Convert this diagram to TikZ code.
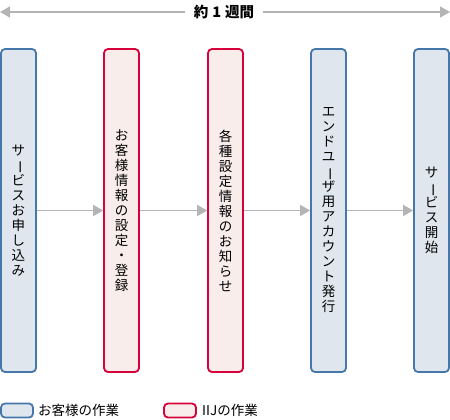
\documentclass[tikz,border=0pt]{standalone}
\usepackage{fontspec}
\setmainfont{Noto Sans CJK JP}
\usetikzlibrary{arrows.meta}
\definecolor{bbord}{HTML}{4677AA}
\definecolor{bfill}{HTML}{DFE6EE}
\definecolor{rbord}{HTML}{D6003A}
\definecolor{rfill}{HTML}{F8EDEA}
\definecolor{agray}{HTML}{B4B4B4}
\newcommand{\vbar}{\rotatebox[origin=c]{-90}{ー}}
\begin{document}
\begin{tikzpicture}[x=1pt,y=-1pt,
  cbox/.style={draw=bbord,fill=bfill,line width=1.8pt,rounded corners=4pt},
  ibox/.style={draw=rbord,fill=rfill,line width=1.8pt,rounded corners=4pt},
  vtext/.style={align=center,font=\fontsize{13.5}{15}\selectfont,inner sep=0pt},
  flow/.style={draw=agray,line width=1.6pt,-{Triangle[length=10pt,width=11pt]}},
  legtext/.style={anchor=west,font=\fontsize{13.5}{15}\selectfont,inner sep=0pt}]
\useasboundingbox (0,0) rectangle (450,420);
% top span
\node[font=\fontsize{14.5}{16}\selectfont\bfseries,inner sep=0pt] (span) at (224,12) {約\hspace{4pt}1\hspace{4pt}週間};
\coordinate (sl) at (0,12);
\coordinate (sr) at (450,12);
\draw[flow] ([xshift=-9pt]span.west) -- (sl);
\draw[flow] ([xshift=9pt]span.east) -- (sr);
% boxes
\node[cbox,minimum width=35pt,minimum height=323pt,inner sep=0pt] (b1) at (18.5,210.5) {};
\node[ibox,minimum width=35pt,minimum height=323pt,inner sep=0pt] (b2) at (121.5,210.5) {};
\node[ibox,minimum width=35pt,minimum height=323pt,inner sep=0pt] (b3) at (225.5,210.5) {};
\node[cbox,minimum width=35pt,minimum height=323pt,inner sep=0pt] (b4) at (328.5,210.5) {};
\node[cbox,minimum width=35pt,minimum height=323pt,inner sep=0pt] (b5) at (431.5,210.5) {};
% texts
\node[vtext] (t1) at (b1) {サ\\\vbar\\ビ\\ス\\お\\申\\し\\込\\み};
\node[vtext] (t2) at (b2) {お\\客\\様\\情\\報\\の\\設\\定\\・\\登\\録};
\node[vtext] (t3) at (b3) {各\\種\\設\\定\\情\\報\\の\\お\\知\\ら\\せ};
\node[vtext] (t4) at (b4) {エ\\ン\\ド\\ユ\\\vbar\\ザ\\用\\ア\\カ\\ウ\\ン\\ト\\発\\行};
\node[vtext] (t5) at (b5) {サ\\\vbar\\ビ\\ス\\開\\始};
% arrows
\draw[flow] (b1.east) -- (b2.west);
\draw[flow] (b2.east) -- (b3.west);
\draw[flow] (b3.east) -- (b4.west);
\draw[flow] (b4.east) -- (b5.west);
% legend
\node[cbox,minimum width=32pt,minimum height=14pt,inner sep=0pt] (l1) at (17,410.5) {};
\node[legtext] (l1t) at (38,410.5) {お客様の作業};
\node[ibox,minimum width=32pt,minimum height=14pt,inner sep=0pt] (l2) at (180,410.5) {};
\node[legtext] (l2t) at (202,410.5) {IIJの作業};
\end{tikzpicture}
\end{document}
